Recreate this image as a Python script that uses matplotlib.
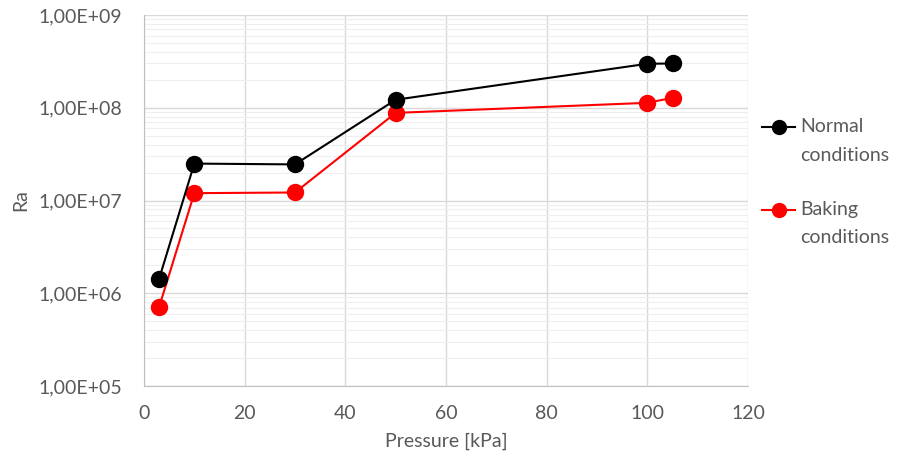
import matplotlib.pyplot as plt
from matplotlib.lines import Line2D
from matplotlib.ticker import LogLocator, FixedLocator, FuncFormatter

# values
pressure = [3, 10, 30, 50, 100, 105]
ra_normal = [1.43e6, 2.5e7, 2.45e7, 1.22e8, 2.98e8, 3.0e8]
ra_baking = [7.1e5, 1.2e7, 1.22e7, 8.8e7, 1.13e8, 1.28e8]
series_names = [("Normal", "conditions"), ("Baking", "conditions")]
series_colors = ['black', '#ff0000']

plt.rcParams['font.family'] = ['Lato', 'DejaVu Sans']
txt = '#595959'
fs = 14

W, H = 898, 459
fig = plt.figure(figsize=(W / 100, H / 100), dpi=100)
ax = fig.add_axes([144 / W, 1 - 386 / H, 604 / W, 371 / H])

ax.plot(pressure, ra_normal, color=series_colors[0], lw=1.5, marker='o', ms=11.5, zorder=4)
ax.plot(pressure, ra_baking, color=series_colors[1], lw=1.5, marker='o', ms=11.5, zorder=3)

ax.set_yscale('log')
ax.set_ylim(1e5, 1e9)
ax.set_xlim(0, 120)
ax.xaxis.set_major_locator(FixedLocator(range(0, 121, 20)))
ax.yaxis.set_major_locator(LogLocator(base=10, numticks=10))
ax.yaxis.set_minor_locator(LogLocator(base=10, subs=range(2, 10), numticks=50))
ax.yaxis.set_major_formatter(FuncFormatter(lambda v, p: ("%.2E" % v).replace('.', ',')))
ax.yaxis.set_minor_formatter(FuncFormatter(lambda v, p: ""))

ax.grid(True, which='major', color='#d9d9d9', lw=1)
ax.grid(True, which='minor', axis='y', color='#eeeeee', lw=0.8)
ax.set_axisbelow(True)
for s in ['top', 'right']:
    ax.spines[s].set_visible(False)
for s in ['left', 'bottom']:
    ax.spines[s].set_color('#bfbfbf')
ax.tick_params(which='both', length=0, colors=txt, labelsize=fs)
ax.tick_params(axis='y', pad=16)
ax.tick_params(axis='x', pad=14)

ax.set_xlabel("Pressure [kPa]", color=txt, fontsize=fs, labelpad=7)
ax.set_ylabel("Ra", color=txt, fontsize=fs, labelpad=6)

# legend to the right, marker aligned with the first text line like Excel does
for (l1, l2), c, ypx in zip(series_names, series_colors, [127, 210]):
    y = 1 - ypx / H
    fig.add_artist(Line2D([762 / W, 795 / W], [y, y], color=c, lw=1.5,
                          transform=fig.transFigure))
    fig.add_artist(Line2D([778.5 / W], [y], color=c, marker='o', ms=10,
                          transform=fig.transFigure))
    fig.text(800 / W, y, l1, color=txt, fontsize=fs, va='center', ha='left')
    fig.text(800 / W, y - 28 / H, l2, color=txt, fontsize=fs, va='center', ha='left')

fig.savefig('out.png', dpi=100)
